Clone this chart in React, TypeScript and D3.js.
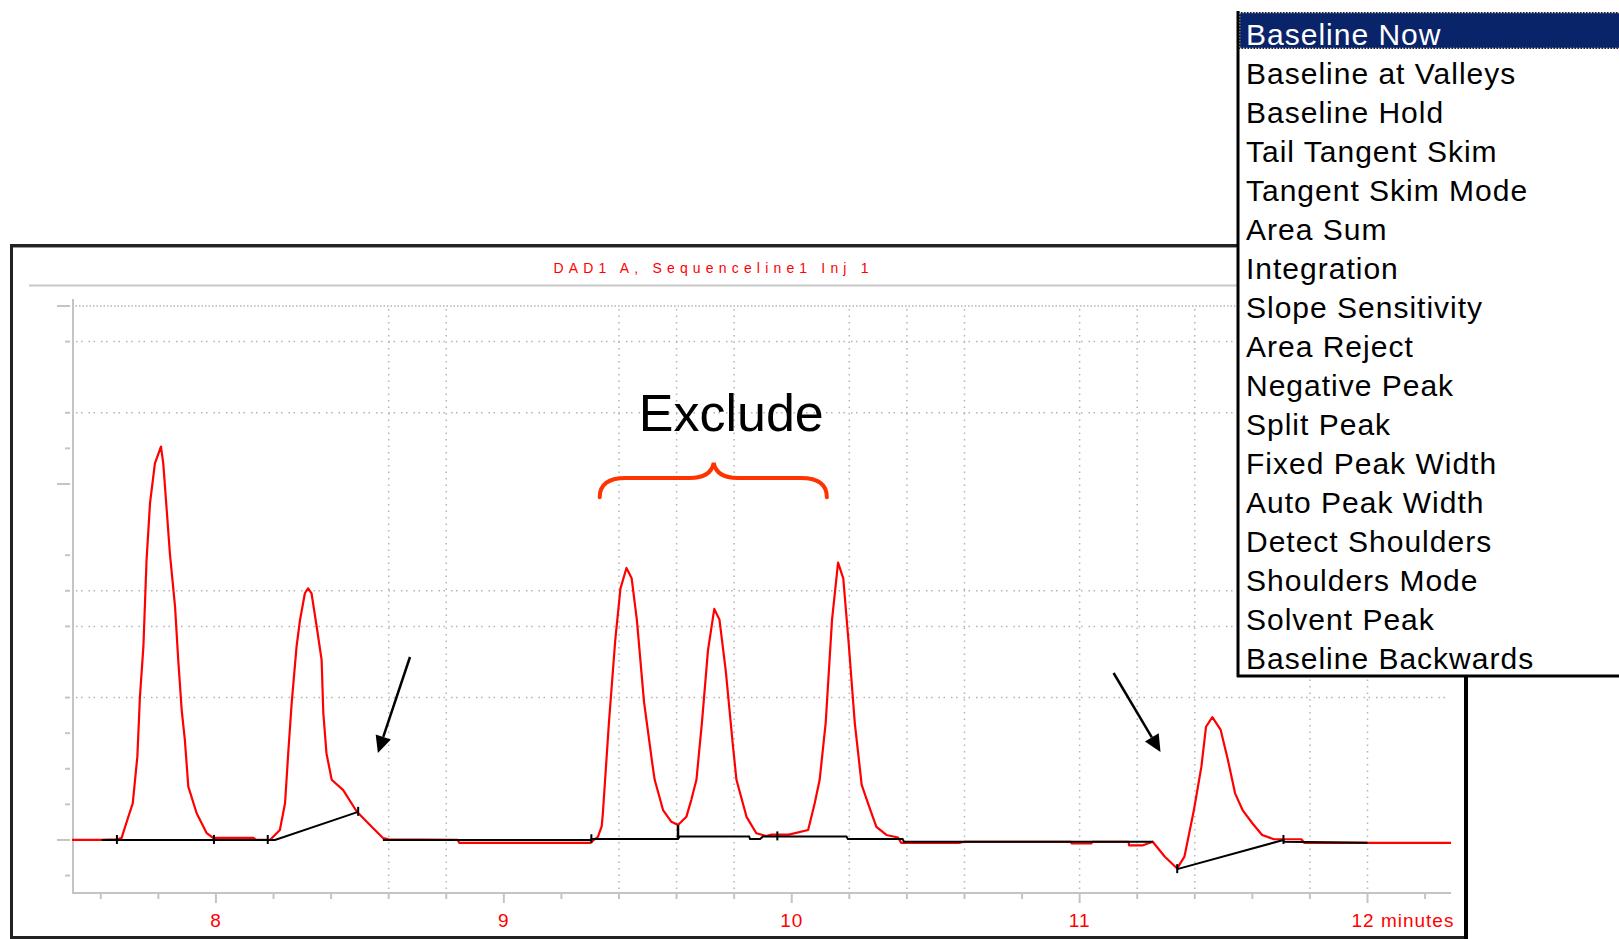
import React from 'react'
import * as d3 from 'd3'

const W = 1619
const H = 939

// chromatogram signal, [minutes, signal units]
const signalTrace: [number, number][] = [
  [7.5, 0], [7.6, 0], [7.656, 0.02], [7.672, 0.05], [7.696, 0.66], [7.711, 1.03], [7.727, 2.34],
  [7.736, 4.03], [7.748, 5.43], [7.759, 7.87], [7.771, 9.46], [7.788, 10.58], [7.809, 11.05],
  [7.817, 10.58], [7.829, 9.27], [7.84, 8.05], [7.858, 6.55], [7.869, 5.06], [7.881, 3.65],
  [7.892, 2.81], [7.904, 1.5], [7.933, 0.75], [7.968, 0.19], [7.991, 0.05], [8.0, 0.06],
  [8.13, 0.06], [8.14, 0.0], [8.1875, 0.0], [8.222, 0.28], [8.24, 1.03], [8.251, 2.43],
  [8.263, 3.84], [8.28, 5.43], [8.292, 6.18], [8.309, 6.93], [8.32, 7.07], [8.332, 6.93],
  [8.35, 5.99], [8.367, 5.06], [8.373, 3.56], [8.384, 2.43], [8.402, 1.69], [8.442, 1.4],
  [8.489, 0.8], [8.535, 0.42], [8.581, 0.05], [8.6, 0.02], [8.84, 0.0], [8.845, -0.08],
  [9.3, -0.08], [9.327, 0.09], [9.34, 0.39], [9.344, 0.75], [9.365, 3.29], [9.387, 5.61],
  [9.405, 7.06], [9.426, 7.64], [9.444, 7.35], [9.462, 6.19], [9.487, 3.87], [9.516, 2.13],
  [9.524, 1.69], [9.553, 0.84], [9.582, 0.51], [9.605, 0.42], [9.634, 0.65], [9.651, 1.12],
  [9.669, 1.69], [9.688, 3.29], [9.709, 5.32], [9.731, 6.49], [9.749, 6.19], [9.771, 4.74],
  [9.795, 2.71], [9.808, 1.69], [9.843, 0.65], [9.877, 0.19], [9.912, 0.11], [9.93, 0.15],
  [9.99, 0.15], [10.057, 0.28], [10.08, 1.04], [10.097, 1.69], [10.118, 3.29], [10.14, 6.19],
  [10.161, 7.79], [10.179, 7.35], [10.197, 5.61], [10.219, 3.29], [10.243, 1.55], [10.265, 1.03],
  [10.294, 0.37], [10.329, 0.14], [10.369, 0.07], [10.38, -0.08], [10.58, -0.08], [10.6, -0.05],
  [10.97, -0.05], [10.972, -0.1], [11.04, -0.1], [11.045, -0.05], [11.17, -0.05], [11.172, -0.15],
  [11.22, -0.15], [11.254, -0.05], [11.296, -0.47], [11.339, -0.8], [11.364, -0.47], [11.397, 0.84],
  [11.423, 2.06], [11.439, 3.18], [11.461, 3.45], [11.49, 3.09], [11.515, 2.25], [11.54, 1.31],
  [11.566, 0.84], [11.6, 0.47], [11.634, 0.14], [11.675, 0.02], [11.77, 0.02], [11.78, -0.08],
  [12.29, -0.08],
]

// integration baselines drawn by the software
const baselineRuns: [number, number][][] = [
  [[7.603, 0], [8.205, 0], [8.494, 0.79]],
  [[8.58, 0], [9.3, 0], [9.304, 0.03], [9.605, 0.03], [9.61, 0.1], [9.852, 0.1], [9.855, 0.03],
    [9.89, 0.03], [9.9, 0.1], [10.19, 0.1], [10.195, 0.03], [10.385, 0.03], [10.39, -0.05], [11.254, -0.05]],
  [[11.339, -0.82], [11.708, 0], [11.71, -0.05], [12.0, -0.08]],
]
const eventMarks: [number, number][] = [
  [7.656, 0], [7.993, 0], [8.18, 0], [8.494, 0.79], [9.304, 0.02], [9.95, 0.1], [11.339, -0.82], [11.708, 0],
]
const valleyDrop: [number, number, number] = [9.605, 0.42, 0.03]

const xDomain: [number, number] = [7.5, 12.29]
const yDomain: [number, number] = [-1.49, 15]
const xMajorTicks = [8, 9, 10, 11, 12]
const xTickLabels = ['8', '9', '10', '11', '12 minutes']
const xMinorTicks = [7.6, 7.8, 8.2, 8.4, 8.6, 8.8, 9.2, 9.4, 9.6, 9.8, 10.2, 10.4, 10.6, 10.8, 11.2, 11.4, 11.6, 11.8, 12.2]
const xGridTimes = [8.6, 8.8, 9.4, 9.6, 9.8, 10.2, 10.4, 10.6, 11.0, 11.2, 11.4, 11.8, 12.0]
const yMajorTicks = [0, 10, 15]
const yMinorTicks = [-1, 1, 2, 3, 4, 6, 7, 8, 11, 12, 14]
const yGridValues = [14, 12, 7, 6, 4]

const chartTitle = 'DAD1 A, Sequenceline1 Inj 1'
const excludeLabel = 'Exclude'

// annotations in data units
const arrows: [number, number, number, number][] = [
  [8.674, 5.14, 8.5625, 2.44],
  [11.118, 4.69, 11.281, 2.47],
]
const brace = { start: 9.333, mid: 9.729, end: 10.122, endV: 9.63, barV: 10.17, tipV: 10.59 }
const excludePos = { t: 9.79, v: 11.49 }

const menuItems = [
  'Baseline Now', 'Baseline at Valleys', 'Baseline Hold', 'Tail Tangent Skim', 'Tangent Skim Mode',
  'Area Sum', 'Integration', 'Slope Sensitivity', 'Area Reject', 'Negative Peak', 'Split Peak',
  'Fixed Peak Width', 'Auto Peak Width', 'Detect Shoulders', 'Shoulders Mode', 'Solvent Peak',
  'Baseline Backwards',
]

const plot = { left: 72, right: 1451, top: 306, bottom: 893 }
const menu = { left: 1237, top: 11, bottom: 677, rowH: 39, firstBase: 45 }

const sans = '"Liberation Sans", Arial, sans-serif'
const RED = '#ff0000'
const GRID = '#b4b4b4'
const AXIS = '#c4c4c4'

export default function App() {
  const x = d3.scaleLinear().domain(xDomain).range([plot.left, plot.right])
  const y = d3.scaleLinear().domain(yDomain).range([plot.bottom, plot.top])
  const line = d3.line<[number, number]>().x(d => x(d[0])).y(d => y(d[1]))

  const arrowShapes = arrows.map(([t0, v0, t1, v1]) => {
    const x0 = x(t0), y0 = y(v0), x1 = x(t1), y1 = y(v1)
    const len = Math.hypot(x1 - x0, y1 - y0)
    const ux = (x1 - x0) / len, uy = (y1 - y0) / len
    const headL = 17, headW = 8
    const bx = x1 - ux * headL, by = y1 - uy * headL
    const pts = [[x1, y1], [bx - uy * headW, by + ux * headW], [bx + uy * headW, by - ux * headW]]
    return { x0, y0, bx, by, pts: pts.map(p => p.join(',')).join(' ') }
  })

  const bp = d3.path()
  {
    const b0 = x(brace.start), b1 = x(brace.end), bm = x(brace.mid)
    const ye = y(brace.endV), yb = y(brace.barV), yt = y(brace.tipV)
    bp.moveTo(b0, ye)
    bp.quadraticCurveTo(b0, yb, b0 + 26, yb)
    bp.lineTo(bm - 24, yb)
    bp.quadraticCurveTo(bm - 3, yb, bm, yt)
    bp.quadraticCurveTo(bm + 3, yb, bm + 24, yb)
    bp.lineTo(b1 - 26, yb)
    bp.quadraticCurveTo(b1, yb, b1, ye)
  }

  return (
    <svg width={W} height={H} style={{ position: 'absolute', left: 0, top: 0, background: '#fff' }}>
      {/* chart window frame */}
      <rect x={11.5} y={245.5} width={1454} height={692} fill="#fff" stroke="#222" strokeWidth={3} />
      <line x1={13} x2={1463} y1={247.5} y2={247.5} stroke="#9a9a9a" strokeWidth={1} />
      <line x1={1466} x2={1466} y1={245} y2={H} stroke="#000" strokeWidth={4} />
      <line x1={29} x2={menu.left} y1={285.5} y2={285.5} stroke="#c8c8c8" strokeWidth={2} />
      <text x={711} y={273} textAnchor="middle" fill={RED} fontFamily={sans} fontSize={14}
        textLength={315} lengthAdjust="spacing">{chartTitle}</text>

      {/* grid */}
      <line x1={plot.left} x2={plot.right} y1={y(15)} y2={y(15)} stroke={GRID} strokeWidth={1.5} strokeDasharray="1.5,2" />
      {yGridValues.map(v => (
        <line key={'hg' + v} x1={plot.left + 4} x2={plot.right} y1={y(v)} y2={y(v)} stroke={GRID}
          strokeWidth={1.5} strokeDasharray="1.5,3.5,1.5,6" />
      ))}
      {xGridTimes.map(t => (
        <line key={'vg' + t} x1={x(t)} x2={x(t)} y1={y(15) + 3} y2={plot.bottom - 4} stroke={GRID}
          strokeWidth={1.5} strokeDasharray="1.5,5" />
      ))}

      {/* axes */}
      <line x1={73} x2={73} y1={299} y2={plot.bottom} stroke={AXIS} strokeWidth={2} />
      <line x1={plot.left} x2={plot.right} y1={plot.bottom} y2={plot.bottom} stroke={AXIS} strokeWidth={2} />
      {yMajorTicks.map(v => (
        <line key={'ymt' + v} x1={57} x2={70} y1={y(v)} y2={y(v)} stroke={AXIS} strokeWidth={2} />
      ))}
      {yMinorTicks.map(v => (
        <line key={'ymi' + v} x1={65} x2={70} y1={y(v)} y2={y(v)} stroke={AXIS} strokeWidth={2} />
      ))}
      {xMajorTicks.map(t => (
        <line key={'xmt' + t} x1={x(t)} x2={x(t)} y1={plot.bottom} y2={plot.bottom + 10} stroke={AXIS} strokeWidth={2} />
      ))}
      {xMinorTicks.map(t => (
        <line key={'xmi' + t} x1={x(t)} x2={x(t)} y1={plot.bottom} y2={plot.bottom + 6} stroke={AXIS} strokeWidth={2} />
      ))}
      {xMajorTicks.map((t, i) => (
        <text key={'xl' + t} x={i === 4 ? x(t) - 16 : x(t)} y={927} textAnchor={i === 4 ? 'start' : 'middle'}
          fill={RED} fontFamily={sans} fontSize={19} letterSpacing={1}>{xTickLabels[i]}</text>
      ))}

      {/* signal and integration */}
      <path d={line(signalTrace) ?? ''} fill="none" stroke={RED} strokeWidth={2.2} strokeLinejoin="round" />
      {baselineRuns.map((run, i) => (
        <path key={'bl' + i} d={line(run) ?? ''} fill="none" stroke="#000" strokeWidth={2} />
      ))}
      {eventMarks.map(([t, v], i) => (
        <line key={'ev' + i} x1={x(t)} x2={x(t)} y1={y(v) - 5} y2={y(v) + 4} stroke="#000" strokeWidth={2} />
      ))}
      <line x1={x(valleyDrop[0])} x2={x(valleyDrop[0])} y1={y(valleyDrop[1])} y2={y(valleyDrop[2])} stroke="#000" strokeWidth={2.5} />

      {/* annotations */}
      {arrowShapes.map((a, i) => (
        <g key={'ar' + i}>
          <line x1={a.x0} y1={a.y0} x2={a.bx} y2={a.by} stroke="#000" strokeWidth={2.5} />
          <polygon points={a.pts} fill="#000" />
        </g>
      ))}
      <path d={bp.toString()} fill="none" stroke="#ff3300" strokeWidth={4} strokeLinecap="round" />
      <text x={x(excludePos.t)} y={y(excludePos.v)} textAnchor="middle" fontFamily={sans} fontSize={52}
        fill="#000">{excludeLabel}</text>

      {/* integration events list box */}
      <rect x={menu.left} y={menu.top} width={W - menu.left + 10} height={menu.bottom - menu.top} fill="#fff" />
      <rect x={menu.left + 2} y={menu.top + 1} width={W - menu.left} height={37} fill="#0a246a" />
      <rect x={menu.left + 2.5} y={menu.top + 1.5} width={W - menu.left} height={36} fill="none"
        stroke="#eadba5" strokeWidth={1.5} strokeDasharray="1.5,1.5" />
      <line x1={menu.left + 1} x2={menu.left + 1} y1={menu.top} y2={menu.bottom} stroke="#000" strokeWidth={3} />
      <line x1={menu.left} x2={W} y1={menu.bottom - 1} y2={menu.bottom - 1} stroke="#000" strokeWidth={3} />
      {menuItems.map((m, i) => (
        <text key={m} x={menu.left + 9} y={menu.firstBase + i * menu.rowH} fontFamily={sans} fontSize={30}
          letterSpacing={1} fill={i === 0 ? '#fff' : '#000'}>{m}</text>
      ))}
    </svg>
  )
}
